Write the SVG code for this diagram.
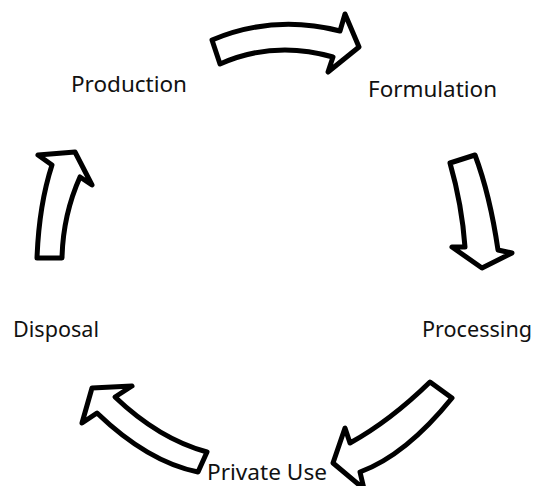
<svg xmlns="http://www.w3.org/2000/svg" width="537" height="486" viewBox="0 0 537 486">
<style>
.lbl{font-family:"Noto Sans","Open Sans","Liberation Sans",sans-serif;font-size:22px;fill:#111}
.arr{fill:#fff;stroke:#000;stroke-width:5;stroke-linejoin:round}
</style>
<rect width="537" height="486" fill="#fff"/>
<g id="connectors">
<path id="arrow-top" class="arr" d="M212,40 Q274,14 340,31 L345,14 L359,47 L328,72 L333,57 Q274,40 220,64 Z"/>
<path id="arrow-right" class="arr" d="M475,155 Q490,195 498,250 L512,253 L482,268 L452,247 L465,247 Q462,205 450,163 Z"/>
<path id="arrow-bottom-right" class="arr" d="M430,382 Q390,421 350,443 L345,428 L333,463 L364,489 L360,472 Q406,455 452,398 Z"/>
<path id="arrow-bottom-left" class="arr" d="M207,452 Q159,439 115,397 L132,386 L92,388 L82,423 L97,413 Q148,462 198,472 Z"/>
<path id="arrow-left" class="arr" d="M37,258 Q39,205 52,165 L38,155 L75,152 L92,185 L80,177 Q63,215 62,258 Z"/>
</g>
<g id="node-production"><text class="lbl" x="71" y="92" textLength="116" lengthAdjust="spacingAndGlyphs">Production</text></g>
<g id="node-formulation"><text class="lbl" x="368" y="97" textLength="129" lengthAdjust="spacingAndGlyphs">Formulation</text></g>
<g id="node-processing"><text class="lbl" x="422" y="337" textLength="110" lengthAdjust="spacingAndGlyphs">Processing</text></g>
<g id="node-private-use"><text class="lbl" x="207" y="480" style="font-size:21px" textLength="120" lengthAdjust="spacingAndGlyphs">Private Use</text></g>
<g id="node-disposal"><text class="lbl" x="13" y="337" textLength="86" lengthAdjust="spacingAndGlyphs">Disposal</text></g>
</svg>
